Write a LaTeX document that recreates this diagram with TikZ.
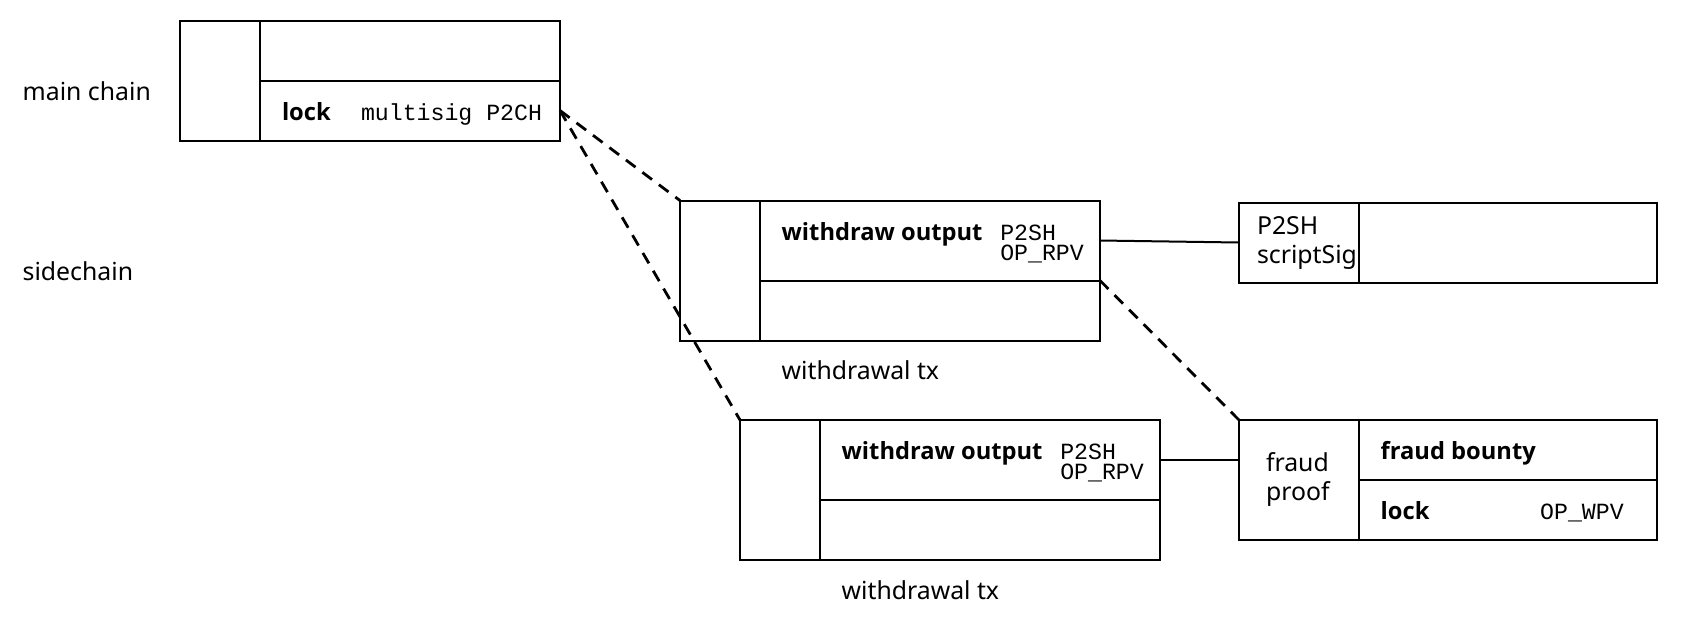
\documentclass[tikz,border=0pt]{standalone}
\usepackage{fontspec}
\IfFontExistsTF{Open Sans Bold}
  {\setmainfont{Noto Sans}[BoldFont={Open Sans Bold}]}
  {\setmainfont{Noto Sans}[BoldFont={Noto Sans}, BoldFeatures={FakeBold=2.5}]}
\setmonofont{Liberation Mono}
\usetikzlibrary{calc}

\begin{document}
\begin{tikzpicture}[x=0.5pt, y=-0.5pt, line width=1pt,
  cell/.style={draw, inner sep=0pt, outer sep=0pt, anchor=north west},
  txt/.style={anchor=base west, inner sep=0pt, font=\fontsize{12.4}{14.3}\selectfont},
  bold/.style={txt, font=\fontsize{11.85}{14.5}\selectfont\bfseries},
  code/.style={anchor=base west, inner sep=0pt, align=left, font=\fontsize{11.6}{10}\selectfont\ttfamily},
  link/.style={line width=1.4pt, dash pattern=on 6pt off 4.3pt}]
  \useasboundingbox (0,0) rectangle (1682,622);
  \node[txt] (mainlbl) at (21.7,100.7) {main chain};
  \node[txt] (sidelbl) at (21.7,280) {sidechain};
  % main chain tx
  \node[cell, minimum width=40pt, minimum height=60pt] (mainin) at (180,20.5) {};
  \node[cell, minimum width=150pt, minimum height=30pt] (mainout) at (mainin.north east) {};
  \node[cell, minimum width=150pt, minimum height=30pt] (mainlock) at (mainout.south west) {};
  \node[bold] (mainlocktxt) at (281,120) {lock};
  \node[code] (mainlockcode) at (360,120) {multisig P2CH};
  % withdrawal tx 1
  \node[cell, minimum width=40pt, minimum height=70pt] (w1in) at (680,200.5) {};
  \node[cell, minimum width=170pt, minimum height=40pt] (w1out) at (w1in.north east) {};
  \node[cell, minimum width=170pt, minimum height=30pt] (w1low) at (w1out.south west) {};
  \node[bold] (w1outtxt) at (780.7,240.7) {withdraw output};
  \node[code] (w1outcode) at (999.3,260) {P2SH\\OP\_RPV};
  \node[txt] (w1lbl) at (780.7,379.5) {withdrawal tx};
  % withdrawal tx 2
  \node[cell, minimum width=40pt, minimum height=70pt] (w2in) at (740,420) {};
  \node[cell, minimum width=170pt, minimum height=40pt] (w2out) at (w2in.north east) {};
  \node[cell, minimum width=170pt, minimum height=30pt] (w2low) at (w2out.south west) {};
  \node[bold] (w2outtxt) at (840.7,459.5) {withdraw output};
  \node[code] (w2outcode) at (1059.3,479.3) {P2SH\\OP\_RPV};
  \node[txt] (w2lbl) at (840.7,599) {withdrawal tx};
  % spend
  \node[cell, minimum width=60pt, minimum height=40pt] (sigin) at (1239,202.5) {};
  \node[cell, minimum width=149pt, minimum height=40pt] (sigout) at (sigin.north east) {};
  \node[txt, align=left] (sigtxt) at (1256,263.3) {P2SH\\scriptSig};
  % fraud proof
  \node[cell, minimum width=60pt, minimum height=60pt] (fraudin) at (1239,420) {};
  \node[cell, minimum width=149pt, minimum height=30pt] (bounty) at (fraudin.north east) {};
  \node[cell, minimum width=149pt, minimum height=30pt] (fraudlock) at (bounty.south west) {};
  \node[txt, align=left] (fraudtxt) at (1265,500.5) {fraud\\proof};
  \node[bold] (bountytxt) at (1379.7,459.3) {fraud bounty};
  \node[bold] (fraudlocktxt) at (1379.7,519.3) {lock};
  \node[code] (fraudlockcode) at (1539.2,519.3) {OP\_WPV};
  % links
  \draw (w1out.east) -- (sigin.west);
  \draw (w2out.east) -- (w2out.east -| fraudin.west);
  \draw[link] (mainlock.east) -- (w1in.north west);
  \draw[link] (mainlock.east) -- (w2in.north west);
  \draw[link] (w1low.north east) -- (fraudin.north west);
\end{tikzpicture}
\end{document}
